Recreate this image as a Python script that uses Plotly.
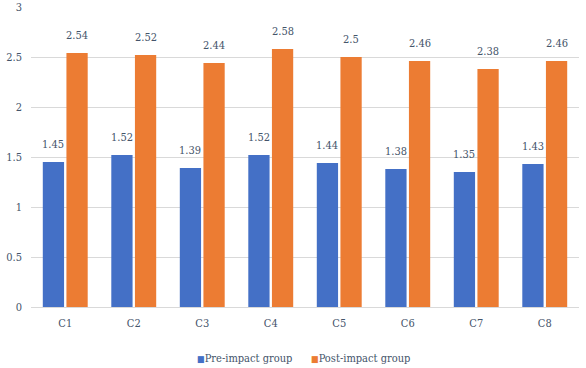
import plotly.graph_objects as go

categories = ["C1", "C2", "C3", "C4", "C5", "C6", "C7", "C8"]
pre_impact = [1.45, 1.52, 1.39, 1.52, 1.44, 1.38, 1.35, 1.43]
post_impact = [2.54, 2.52, 2.44, 2.58, 2.5, 2.46, 2.38, 2.46]
series_names = ["Pre-impact group", "Post-impact group"]
y_ticks = [0, 0.5, 1, 1.5, 2, 2.5, 3]
y_tick_labels = ["0", "0.5", "1", "1.5", "2", "2.5", "3"]

FONT = "DejaVu Serif Condensed, DejaVu Serif"
FS = 11
TXT = "#44546A"
BLUE = "#4470C6"
ORANGE = "#EC7C33"
BARGAP = 0.31
GROUPGAP = 0.1

fig = go.Figure()
fig.add_trace(go.Bar(name=series_names[0], x=categories, y=pre_impact,
                     marker=dict(color=BLUE, line=dict(width=0)), showlegend=False))
fig.add_trace(go.Bar(name=series_names[1], x=categories, y=post_impact,
                     marker=dict(color=ORANGE, line=dict(width=0)), showlegend=False))

# value labels above bars
slot = (1 - BARGAP) / 2
for series, side in ((pre_impact, -1), (post_impact, 1)):
    for i, v in enumerate(series):
        fig.add_annotation(x=i + side * slot / 2, y=v, xref="x", yref="y",
                           text=f"{v:g}", showarrow=False, yanchor="bottom",
                           yshift=9, font=dict(family=FONT, size=FS, color=TXT))

# compact legend (square marker + label) below the axis
for name, color, lx in ((series_names[0], BLUE, 0.302), (series_names[1], ORANGE, 0.51)):
    fig.add_annotation(x=lx, y=-0.17, xref="paper", yref="paper", xanchor="left",
                       yanchor="middle", showarrow=False, borderpad=0,
                       text=f"<span style='color:{color};font-size:9px'>■</span>{name}",
                       font=dict(family=FONT, size=FS, color=TXT))

fig.update_layout(
    width=586, height=368,
    margin=dict(l=31, r=7, t=7, b=61, autoexpand=False),
    paper_bgcolor="white", plot_bgcolor="white",
    barmode="group", bargap=BARGAP, bargroupgap=GROUPGAP,
    font=dict(family=FONT, size=FS, color=TXT),
    showlegend=False,
)
fig.update_xaxes(showgrid=False, showline=True, linecolor="#D9D9D9", ticks="",
                 automargin=False, ticklabelstandoff=6,
                 tickfont=dict(family=FONT, size=FS, color=TXT))
fig.update_yaxes(range=[0, 3], tickvals=y_ticks, ticktext=y_tick_labels,
                 showgrid=True, gridcolor="#D9D9D9", zeroline=False, showline=False,
                 ticks="", ticklabelstandoff=8, automargin=False, ticklabeloverflow="allow",
                 tickfont=dict(family=FONT, size=FS, color=TXT))

fig.write_html("out.html", config={"displayModeBar": False},
               post_script="document.body.style.margin='0';")
